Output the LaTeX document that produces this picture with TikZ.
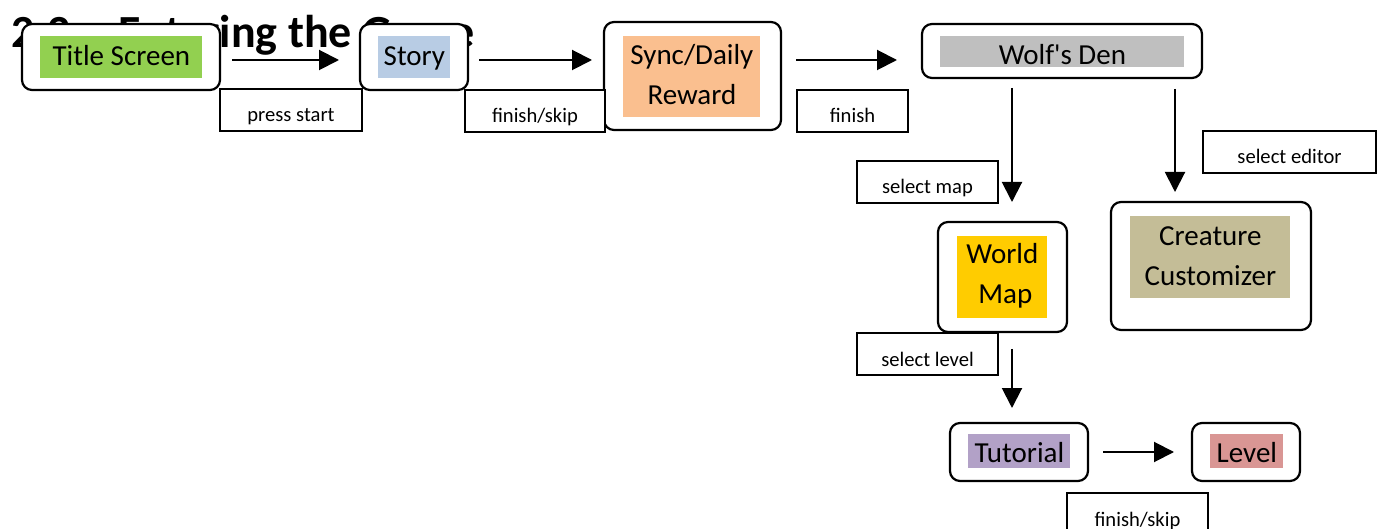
\documentclass[tikz,border=0pt]{standalone}
\usepackage{fontspec}
\setmainfont{Carlito}
\usetikzlibrary{arrows.meta,positioning}

\definecolor{titlegreen}{HTML}{92D050}
\definecolor{storyblue}{HTML}{B8CCE4}
\definecolor{syncorange}{HTML}{FABF8F}
\definecolor{dengray}{HTML}{BFBFBF}
\definecolor{mapyellow}{HTML}{FFCC00}
\definecolor{creaturetan}{HTML}{C4BD97}
\definecolor{tutorialpurple}{HTML}{B2A1C7}
\definecolor{levelred}{HTML}{D99694}

\begin{document}
\begin{tikzpicture}[
  x=0.5pt, y=-0.5pt,
  screen/.style={draw, fill=white, rounded corners=5pt, line width=1.1pt,
    inner sep=0pt, outer sep=0pt, anchor=north west},
  screentag/.style={inner sep=0pt, anchor=north west,
    font=\fontsize{14.5pt}{20pt}\selectfont},
  trigger/.style={draw, fill=white, line width=1pt, inner sep=0pt,
    anchor=north west, font=\fontsize{10.3pt}{12pt}\selectfont,
    text height=16.5pt, text depth=4.5pt},
  flow/.style={-{Triangle[length=10pt,width=10pt]}, line width=1pt}
]
\useasboundingbox (0,0) rectangle (1382,529);

% Heading behind the screens.
\node[anchor=base west, inner sep=0pt, font=\bfseries\fontsize{23pt}{28pt}\selectfont]
  (heading) at (11,48) {2.2\hspace{24pt}Entering the Game};

% Screens.
\node[screen, minimum width=99pt, minimum height=33pt] (title) at (22,24) {};
\node[screentag, fill=titlegreen, minimum width=81pt, text height=14.5pt, text depth=6.5pt]
  (titletag) at (40,36) {Title Screen};

\node[screen, minimum width=54pt, minimum height=33pt] (story) at (360,24) {};
\node[screentag, fill=storyblue, minimum width=36pt, text height=14.5pt, text depth=6.5pt]
  (storytag) at (378,36) {Story};

\node[screen, minimum width=88.5pt, minimum height=54pt] (sync) at (604,22) {};
\node[screentag, fill=syncorange, align=center, text width=68.5pt, text height=14pt,
  text depth=26.5pt] (synctag) at (623,36) {Sync/Daily\\Reward};

\node[screen, minimum width=140pt, minimum height=27pt] (den) at (922,24) {};
\node[screentag, fill=dengray, minimum width=122pt, text height=14pt, text depth=1.5pt]
  (dentag) at (940,36) {Wolf\textquotesingle s Den};

\node[screen, minimum width=64.5pt, minimum height=55pt] (worldmap) at (938,222) {};
\node[screentag, fill=mapyellow, align=center, text width=45pt, text height=13.5pt,
  text depth=27.5pt] (worldmaptag) at (957,236) {World\\\hspace{3pt}Map};

\node[screen, minimum width=100pt, minimum height=64pt] (creature) at (1111,202) {};
\node[screentag, fill=creaturetan, align=center, text width=80pt, text height=14.5pt,
  text depth=26.5pt] (creaturetag) at (1130,216) {Creature\\Customizer};

\node[screen, minimum width=69pt, minimum height=29pt] (tutorial) at (950,423) {};
\node[screentag, fill=tutorialpurple, minimum width=51pt, text height=14pt, text depth=3pt]
  (tutorialtag) at (968,434) {Tutorial};

\node[screen, minimum width=54pt, minimum height=29pt] (level) at (1192,423) {};
\node[screentag, fill=levelred, minimum width=36.5pt, text height=14pt, text depth=3pt]
  (leveltag) at (1210,434) {Level};

% Transitions.
\draw[flow, shorten <=6pt, shorten >=10.5pt]
  ([yshift=-1.5pt]title.east) -- ([yshift=-1.5pt]story.west);
\draw[flow, shorten <=5.5pt, shorten >=6pt]
  ([yshift=-1.5pt]story.east) -- ([yshift=-1.5pt]story.east -| sync.west);
\draw[flow, shorten <=7.5pt, shorten >=12.5pt]
  ([yshift=-4.5pt]den.west -| sync.east) -- ([yshift=-4.5pt]den.west);
\draw[flow, shorten <=5pt, shorten >=10pt]
  ([xshift=4.75pt]worldmap.north |- den.south) -- ([xshift=4.75pt]worldmap.north);
\draw[flow, shorten <=5.5pt, shorten >=5pt]
  ([xshift=-18pt]creature.north |- den.south) -- ([xshift=-18pt]creature.north);
\draw[flow, shorten <=8.5pt, shorten >=7.5pt]
  ([xshift=4.75pt]worldmap.south) -- ([xshift=4.75pt]worldmap.south |- tutorial.north);
\draw[flow, shorten <=7.5pt, shorten >=9pt] (tutorial.east) -- (level.west);

% Trigger boxes.
\node[trigger, minimum width=71pt] (pressstart) at (219,88) {press start};
\node[trigger, minimum width=70pt] (skipstory) at (464,89) {finish/skip};
\node[trigger, minimum width=55.5pt] (finishsync) at (796,89) {finish};
\node[trigger, minimum width=70.5pt] (selmap) at (856,160) {select map};
\node[trigger, minimum width=86.5pt] (seleditor) at (1202,130) {select editor};
\node[trigger, minimum width=70.5pt] (sellevel) at (856,332) {select level};
\node[trigger, minimum width=70.5pt] (skiptutorial) at (1066,492) {finish/skip};

\end{tikzpicture}
\end{document}
